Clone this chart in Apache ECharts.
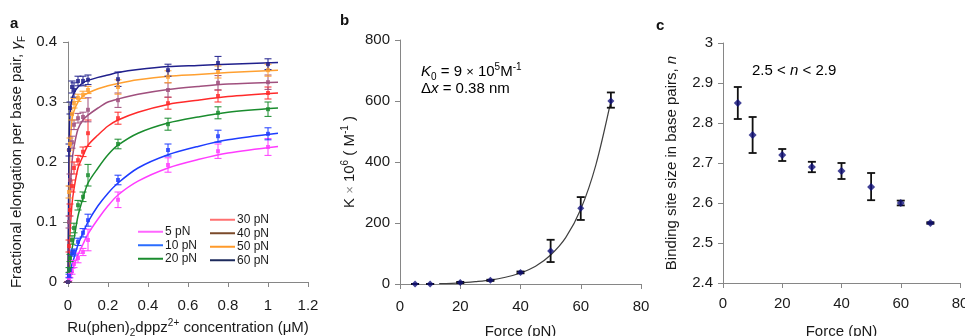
<!DOCTYPE html>
<html><head><meta charset="utf-8">
<script src="https://cdn.jsdelivr.net/npm/echarts@6/dist/echarts.min.js"></script>
<style>html,body{margin:0;padding:0;background:#fff}#c{width:965px;height:336px}</style>
</head><body><div id="c"></div>
<script>
// ---------- Panel a data ----------
const concA = [0, 0.005, 0.01, 0.02, 0.03, 0.05, 0.075, 0.1, 0.25, 0.5, 0.75, 1.0];
const pN5  = [0, 0.005, 0.012, 0.018, 0.03, 0.04, 0.05, 0.07, 0.137, 0.195, 0.218, 0.225];
const pN5e = [0, 0.003, 0.005, 0.005, 0.006, 0.008, 0.006, 0.018, 0.013, 0.012, 0.012, 0.014];
const pN10  = [0, 0.01, 0.02, 0.048, 0.05, 0.067, 0.082, 0.103, 0.17, 0.22, 0.243, 0.247];
const pN10e = [0, 0.003, 0.004, 0.005, 0.005, 0.006, 0.007, 0.01, 0.008, 0.01, 0.01, 0.01];
const pN20  = [0, 0.02, 0.04, 0.07, 0.09, 0.128, 0.142, 0.178, 0.23, 0.263, 0.282, 0.288];
const pN20e = [0, 0.004, 0.006, 0.007, 0.008, 0.008, 0.008, 0.018, 0.008, 0.01, 0.01, 0.012];
const pN30  = [0, 0.06, 0.12, 0.16, 0.19, 0.203, 0.217, 0.248, 0.273, 0.298, 0.31, 0.315];
const pN30e = [0, 0.01, 0.01, 0.01, 0.01, 0.008, 0.008, 0.022, 0.01, 0.01, 0.01, 0.01];
const pN40  = [0, 0.1, 0.17, 0.233, 0.262, 0.273, 0.275, 0.287, 0.303, 0.32, 0.332, 0.333];
const pN40e = [0, 0.01, 0.01, 0.01, 0.008, 0.008, 0.008, 0.02, 0.012, 0.012, 0.012, 0.012];
const pN50  = [0, 0.15, 0.23, 0.28, 0.298, 0.307, 0.312, 0.32, 0.325, 0.342, 0.35, 0.353];
const pN50e = [0, 0.01, 0.01, 0.01, 0.008, 0.006, 0.006, 0.006, 0.012, 0.01, 0.01, 0.01];
const pN60  = [0, 0.22, 0.29, 0.325, 0.32, 0.335, 0.335, 0.337, 0.338, 0.353, 0.365, 0.363];
const pN60e = [0, 0.01, 0.01, 0.01, 0.012, 0.008, 0.008, 0.008, 0.012, 0.01, 0.011, 0.009];
// fitted curves
const fitConc = [0, 0.005, 0.01, 0.02, 0.03, 0.05, 0.075, 0.1, 0.15, 0.2, 0.25, 0.35, 0.5, 0.65, 0.8, 1.05];
const fit5  = [0, 0.005, 0.01, 0.02, 0.028, 0.045, 0.063, 0.08, 0.105, 0.127, 0.145, 0.168, 0.19, 0.204, 0.215, 0.226];
const fit10 = [0, 0.008, 0.015, 0.03, 0.04, 0.062, 0.082, 0.1, 0.127, 0.148, 0.165, 0.19, 0.212, 0.226, 0.237, 0.248];
const fit20 = [0, 0.015, 0.03, 0.055, 0.072, 0.11, 0.14, 0.165, 0.19, 0.212, 0.228, 0.248, 0.265, 0.275, 0.283, 0.29];
const fit30 = [0, 0.04, 0.08, 0.13, 0.155, 0.19, 0.21, 0.228, 0.245, 0.26, 0.27, 0.283, 0.296, 0.303, 0.309, 0.315];
const fit40 = [0, 0.08, 0.14, 0.2, 0.225, 0.255, 0.27, 0.278, 0.29, 0.3, 0.305, 0.313, 0.321, 0.326, 0.33, 0.333];
const fit50 = [0, 0.15, 0.22, 0.27, 0.285, 0.3, 0.31, 0.315, 0.322, 0.327, 0.331, 0.337, 0.343, 0.346, 0.349, 0.353];
const fit60 = [0, 0.22, 0.28, 0.305, 0.315, 0.325, 0.332, 0.336, 0.341, 0.345, 0.349, 0.354, 0.359, 0.361, 0.363, 0.366];
const seriesNames = ['5 pN', '10 pN', '20 pN', '30 pN', '40 pN', '50 pN', '60 pN'];
const xTicksA = [0, 0.2, 0.4, 0.6, 0.8, 1, 1.2];
const yTicksA = [0, 0.1, 0.2, 0.3, 0.4];

// ---------- Panel b data ----------
const forceB = [5, 10, 20, 30, 40, 50, 60, 70];
const kB     = [0, 0, 5, 12, 38, 108, 248, 600];
const kLow   = [0, 0, 3, 10, 35, 72, 210, 578];
const kHigh  = [0, 0, 7, 14, 41, 145, 285, 628];
const fitF   = [13, 20, 25, 30, 35, 40, 45, 50, 55, 60, 65, 70];
const fitK   = [1, 4, 8, 13, 22, 36, 58, 95, 152, 245, 390, 600];

// ---------- Panel c data ----------
const forceC = [5, 10, 20, 30, 40, 50, 60, 70];
const nC     = [2.85, 2.77, 2.72, 2.69, 2.68, 2.64, 2.60, 2.55];
const nLow   = [2.81, 2.725, 2.705, 2.677, 2.66, 2.607, 2.594, 2.548];
const nHigh  = [2.89, 2.815, 2.735, 2.703, 2.70, 2.675, 2.606, 2.552];

// ---------- styles ----------
const plotColors   = ['#ff3cff', '#1e3cff', '#1a8c2e', '#ff2a2a', '#a0507e', '#ffa030', '#20208c'];
const legendColors = ['#ff66ff', '#2a6cff', '#1a8c2e', '#ff7070', '#7b4a2a', '#ff9a2a', '#1c2a5c'];
const FONT = 'Liberation Sans, Arial, sans-serif';
const AX = '#868686';

const ptsA = [pN5, pN10, pN20, pN30, pN40, pN50, pN60];
const errA = [pN5e, pN10e, pN20e, pN30e, pN40e, pN50e, pN60e];
const fitsA = [fit5, fit10, fit20, fit30, fit40, fit50, fit60];

function errRender(color, capW, lw) {
  return function (params, api) {
    const x = api.value(0), lo = api.value(1), hi = api.value(2);
    const p1 = api.coord([x, hi]), p2 = api.coord([x, lo]);
    const st = { stroke: color, lineWidth: lw };
    return { type: 'group', children: [
      { type: 'line', shape: { x1: p1[0], y1: p1[1], x2: p2[0], y2: p2[1] }, style: st },
      { type: 'line', shape: { x1: p1[0] - capW, y1: p1[1], x2: p1[0] + capW, y2: p1[1] }, style: st },
      { type: 'line', shape: { x1: p2[0] - capW, y1: p2[1], x2: p2[0] + capW, y2: p2[1] }, style: st }
    ]};
  };
}

const axisCommon = {
  axisLine: { show: true, lineStyle: { color: AX, width: 1 } },
  axisTick: { show: true, inside: false, length: 5, lineStyle: { color: AX } },
  splitLine: { show: false },
  axisLabel: { color: '#1a1a1a', fontSize: 15, fontFamily: FONT },
  nameLocation: 'middle',
  nameTextStyle: { color: '#1a1a1a', fontSize: 15, fontFamily: FONT }
};
function ax(o) { return Object.assign({}, JSON.parse(JSON.stringify(axisCommon)), o, {
  axisLabel: Object.assign({}, axisCommon.axisLabel, o.axisLabel || {}),
  nameTextStyle: Object.assign({}, axisCommon.nameTextStyle, o.nameTextStyle || {})
}); }

const richBase = {
  s: { fontSize: 10, lineHeight: 10, verticalAlign: 'bottom', fontFamily: FONT, color: '#1a1a1a' },
  p: { fontSize: 10, lineHeight: 10, verticalAlign: 'top', fontFamily: FONT, color: '#1a1a1a' },
  i: { fontStyle: 'italic', fontSize: 15, lineHeight: 20, fontFamily: FONT, color: '#1a1a1a' },
  x: { fontSize: 13, lineHeight: 20, color: '#888', fontFamily: FONT },
  t: { fontSize: 15, lineHeight: 20, fontFamily: FONT, color: '#1a1a1a' }
};

const series = [];
// Panel a
for (let k = 0; k < 7; k++) {
  series.push({
    name: seriesNames[k], type: 'line', xAxisIndex: 0, yAxisIndex: 0,
    data: fitConc.map((c, i) => [c, fitsA[k][i]]),
    smooth: 0.3, showSymbol: false, symbol: 'none',
    lineStyle: { color: plotColors[k], width: 1.5 }, itemStyle: { color: plotColors[k] },
    z: 2, silent: true
  });
  series.push({
    type: 'custom', xAxisIndex: 0, yAxisIndex: 0,
    renderItem: errRender(plotColors[k], 3.5, 1),
    encode: { x: 0, y: [1, 2] },
    data: concA.map((c, i) => [c, ptsA[k][i] - errA[k][i], ptsA[k][i] + errA[k][i]]),
    z: 3, silent: true
  });
  series.push({
    type: 'scatter', xAxisIndex: 0, yAxisIndex: 0,
    data: concA.map((c, i) => [c, ptsA[k][i]]),
    symbol: 'rect', symbolSize: 4, itemStyle: { color: plotColors[k] }, z: 4, silent: true
  });
}
// Panel b
series.push({
  type: 'line', xAxisIndex: 1, yAxisIndex: 1, data: fitF.map((f, i) => [f, fitK[i]]),
  smooth: 0.3, symbol: 'none', lineStyle: { color: '#404040', width: 1.2 }, z: 2, silent: true
});
series.push({
  type: 'custom', xAxisIndex: 1, yAxisIndex: 1, renderItem: errRender('#111', 4, 1.8),
  encode: { x: 0, y: [1, 2] }, data: forceB.map((f, i) => [f, kLow[i], kHigh[i]]), z: 3, silent: true
});
series.push({
  type: 'scatter', xAxisIndex: 1, yAxisIndex: 1, data: forceB.map((f, i) => [f, kB[i]]),
  symbol: 'diamond', symbolSize: 7, itemStyle: { color: '#10107a' }, z: 4, silent: true
});
// Panel c
series.push({
  type: 'custom', xAxisIndex: 2, yAxisIndex: 2, renderItem: errRender('#111', 4, 1.8),
  encode: { x: 0, y: [1, 2] }, data: forceC.map((f, i) => [f, nLow[i], nHigh[i]]), z: 3, silent: true
});
series.push({
  type: 'scatter', xAxisIndex: 2, yAxisIndex: 2, data: forceC.map((f, i) => [f, nC[i]]),
  symbol: 'diamond', symbolSize: 8, itemStyle: { color: '#10107a' }, z: 4, silent: true
});

function legendItems(idx) {
  return idx.map(k => ({ name: seriesNames[k], icon: 'rect', itemStyle: { color: legendColors[k] } }));
}
const legendCommon = {
  orient: 'vertical', itemWidth: 25, itemHeight: 2, itemGap: 0, selectedMode: false,
  textStyle: { fontSize: 12, fontFamily: FONT, color: '#1a1a1a', lineHeight: 13.5, padding: [0, 0, 0, -3] }
};

const option = {
  animation: false,
  backgroundColor: '#fff',
  grid: [
    { left: 68, top: 42, width: 240, height: 240, containLabel: false, outerBoundsMode: 'none' },
    { left: 400, top: 40, width: 241, height: 244, containLabel: false, outerBoundsMode: 'none' },
    { left: 723, top: 43, width: 237, height: 240, containLabel: false, outerBoundsMode: 'none' }
  ],
  legend: [
    Object.assign({}, legendCommon, { left: 133, top: 220, data: legendItems([0, 1, 2]) }),
    Object.assign({}, legendCommon, { left: 205, top: 208, data: legendItems([3, 4, 5, 6]) })
  ],
  xAxis: [
    ax({ gridIndex: 0, type: 'value', min: xTicksA[0], max: xTicksA[xTicksA.length - 1], interval: 0.2,
      axisLabel: { margin: 16 },
      name: 'Ru(phen){s|2}dppz{p|2+}{t| concentration (μM)}', nameGap: 32,
      nameTextStyle: { rich: richBase, fontSize: 15, lineHeight: 20 } }),
    ax({ gridIndex: 1, type: 'value', min: 0, max: 80, interval: 20, axisLabel: { margin: 15 },
      name: 'Force (pN)', nameGap: 40 }),
    ax({ gridIndex: 2, type: 'value', min: 0, max: 80, interval: 20, axisLabel: { margin: 13 },
      name: 'Force (pN)', nameGap: 41 })
  ],
  yAxis: [
    ax({ gridIndex: 0, type: 'value', min: yTicksA[0], max: yTicksA[yTicksA.length - 1], interval: 0.1,
      axisLabel: { margin: 11 },
      name: '{t|Fractional elongation per base pair, }{i|γ}{s|F}', nameGap: 41,
      nameTextStyle: { rich: richBase, lineHeight: 20 } }),
    ax({ gridIndex: 1, type: 'value', min: 0, max: 800, interval: 200, axisLabel: { margin: 10 },
      name: '{t|K }{x|×}{t| 10}{p|6}{t| ( M}{p|-1}{t| )}', nameGap: 40,
      nameTextStyle: { rich: richBase, lineHeight: 20 } }),
    ax({ gridIndex: 2, type: 'value', min: 2.4, max: 3, interval: 0.1, axisLabel: { margin: 10 },
      name: '{t|Binding site size in base pairs, }{i|n}', nameGap: 41,
      nameTextStyle: { rich: richBase, lineHeight: 20 } })
  ],
  graphic: [
    { type: 'text', left: 10, top: 16, style: { text: 'a', font: 'bold 15px ' + FONT, fill: '#111' } },
    { type: 'text', left: 340, top: 13, style: { text: 'b', font: 'bold 15px ' + FONT, fill: '#111' } },
    { type: 'text', left: 656, top: 18, style: { text: 'c', font: 'bold 15px ' + FONT, fill: '#111' } },
    { type: 'text', left: 421, top: 62, style: { text: '{i|K}{s|0}{t| = 9 }{x|×}{t| 10}{p|5}{t|M}{p|-1}', rich: richBase } },
    { type: 'text', left: 421, top: 81, style: { text: '{t|Δ}{i|x}{t| = 0.38 nm}', rich: richBase } },
    { type: 'text', left: 752, top: 63, style: { text: '{t|2.5 < }{i|n}{t| < 2.9}', rich: richBase } }
  ],
  series: series
};
const chart = echarts.init(document.getElementById('c'), null, { renderer: 'canvas' });
chart.setOption(option);
</script></body></html>
